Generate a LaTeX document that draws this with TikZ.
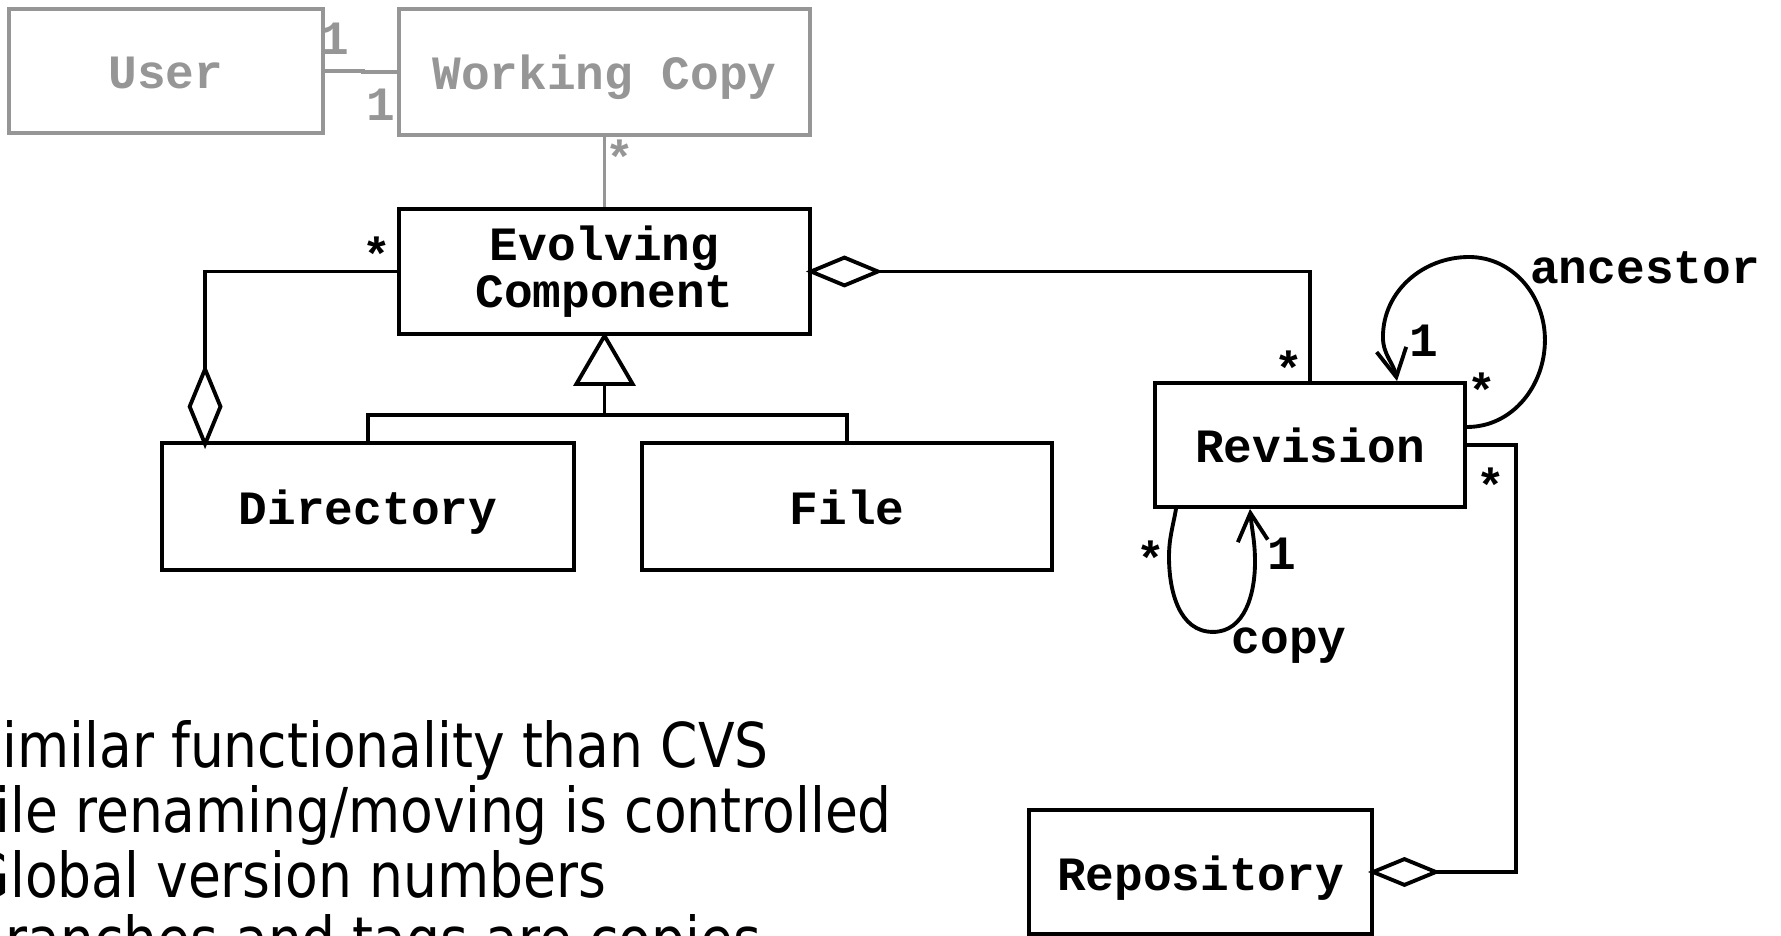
\documentclass[tikz,border=0pt]{standalone}
\usepackage{fontspec}
\usepackage{xcolor}
\usepackage{tikz}
\usetikzlibrary{arrows.meta,positioning}
\newfontfamily\umlfont{Liberation Mono}
\newfontfamily\slidefont[FakeStretch=0.865]{DejaVu Sans}
\definecolor{umlgray}{RGB}{150,150,150}

\begin{document}
\begin{tikzpicture}[
	class/.style={draw,line width=1.1pt,inner sep=0pt,align=center,
		font=\fontsize{13.6}{13.4}\umlfont\bfseries},
	oneline/.style={class,text height=0.40cm,text depth=0.04cm},
	mult/.style={inner sep=0pt,anchor=base,font=\fontsize{13.6}{13.4}\umlfont\bfseries},
	assoc/.style={line width=1.1pt},
	barb/.style={-{Straight Barb[length=0.28cm,width=0.3cm]}}]
	\useasboundingbox (0,0) rectangle (17.81,-9.36);
	\clip (0,0) rectangle (17.81,-9.36);

	% classes
	\node[oneline,draw=umlgray,text=umlgray,minimum width=3.14cm,minimum height=1.24cm] (user) at (1.66,-0.71) {User};
	\node[oneline,draw=umlgray,text=umlgray,minimum width=4.11cm,minimum height=1.26cm] (wc) at (6.045,-0.72) {Working Copy};
	\node[class,minimum width=4.11cm,minimum height=1.25cm] (evolving) at (6.045,-2.715) {Evolving\\Component};
	\node[oneline,minimum width=4.12cm,minimum height=1.27cm] (directory) at (3.68,-5.065) {Directory};
	\node[oneline,minimum width=4.10cm,minimum height=1.27cm] (file) at (8.47,-5.065) {File};
	\node[oneline,minimum width=3.10cm,minimum height=1.24cm] (revision) at (13.10,-4.45) {Revision};
	\node[oneline,minimum width=3.43cm,minimum height=1.24cm] (repository) at (12.005,-8.72) {Repository};

	% associations
	\draw[assoc,umlgray] (user.east) -- ++(0.38,0) |- (wc.west);
	\draw[assoc,umlgray] (wc.south) -- (evolving.north);
	\draw[assoc,-{Diamond[open,length=0.85cm,width=0.35cm]},shorten >=-0.08cm] (evolving.west) -| ([xshift=0.45cm]directory.north west);
	\draw[assoc,{Diamond[open,length=0.77cm,width=0.32cm]}-,shorten <=-0.06cm] (evolving.east) -| (revision.north);
	\draw[assoc,-{Diamond[open,length=0.73cm,width=0.30cm]},shorten >=-0.06cm] (revision.east) -- ++(0.49,0) |- (repository.east);

	% generalization
	\coordinate (gen) at (6.045,-4.15);
	\draw[assoc] (directory.north) |- (gen) -| (file.north);
	\draw[assoc,-{Triangle[open,length=0.54cm,width=0.62cm]},shorten >=-0.04cm] (gen) -- (evolving.south);

	% self associations of revision
	\draw[assoc,barb] ([yshift=0.18cm]revision.east) to[out=0,in=-90] ++(0.78,0.87)
		to[out=90,in=0] ++(-0.76,0.83) to[out=180,in=90] ++(-0.86,-0.80)
		to[out=-90,in=100] ([xshift=0.87cm]revision.north);
	\draw[assoc,barb] ([xshift=-1.34cm]revision.south) to[out=-100,in=90] ++(-0.07,-0.48)
		to[out=-90,in=180] ++(0.44,-0.75) to[out=0,in=-90] ++(0.42,0.70)
		to[out=90,in=-85] ([xshift=-0.60cm]revision.south);

	% multiplicities and roles
	\node[mult,umlgray] (user-one) at (3.35,-0.55) {1};
	\node[mult,umlgray] (wc-one) at (3.81,-1.21) {1};
	\node[mult,umlgray] (wc-many) at (6.20,-1.75) {*};
	\node[mult] (sub-many) at (3.77,-2.72) {*};
	\node[mult] (rev-many) at (12.89,-3.86) {*};
	\node[mult] (anc-one) at (14.24,-3.57) {1};
	\node[mult] (anc-many) at (14.82,-4.08) {*};
	\node[mult] (repo-many) at (14.91,-5.03) {*};
	\node[mult] (copy-many) at (11.51,-5.76) {*};
	\node[mult] (copy-one) at (12.82,-5.70) {1};
	\node[mult] (copy) at (12.89,-6.54) {copy};
	\node[mult] (ancestor) at (16.45,-2.84) {ancestor};

	% notes
	\foreach \txt [count=\i] in {Similar functionality than CVS,File renaming/moving is controlled,Global version numbers,Branches and tags are copies}
		\node[inner sep=0pt,anchor=base west,font=\fontsize{17.6}{18}\slidefont] (note-\i) at (-0.32,-7.68-0.645*\i+0.645) {\txt};
\end{tikzpicture}
\end{document}
